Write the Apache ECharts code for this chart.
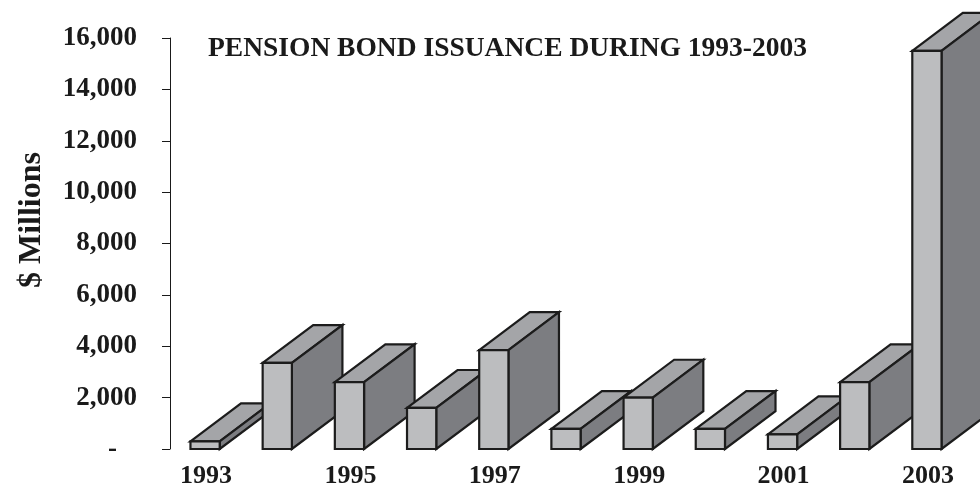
<!DOCTYPE html>
<html>
<head>
<meta charset="utf-8">
<script src="https://cdn.jsdelivr.net/npm/echarts@6/dist/echarts.min.js"></script>
<style>
  html, body { margin: 0; padding: 0; background: #ffffff; }
  #chart { width: 980px; height: 489px; }
</style>
</head>
<body>
<div id="chart"></div>
<script>
// Pension bond issuance by year, $ millions
const years = ['1993', '1994', '1995', '1996', '1997', '1998', '1999', '2000', '2001', '2002', '2003'];
const issuance = [300, 3350, 2600, 1600, 3850, 780, 2000, 780, 570, 2600, 15500];
const yTicks = { min: 0, max: 16000, step: 2000 };

const FONT = '"Liberation Serif", "Times New Roman", serif';
const FACE = { front: '#bcbdbf', top: '#a4a5a8', side: '#7c7d81', edge: '#1c1c1c' };

const chart = echarts.init(document.getElementById('chart'), null, { renderer: 'canvas' });

// Extruded box: front face plus a top and right-side face receding up and to the right
function renderBox(params, api) {
  const idx = api.value(0);
  const val = api.value(1);
  const topPt = api.coord([idx, val]);
  const basePt = api.coord([idx, 0]);
  const band = api.size([1, 0])[0];
  const w = band * 0.405;
  const dx = band * 0.7;
  const dy = -band * 0.525;
  const x0 = topPt[0] - w / 2 - 1;
  const x1 = x0 + w;
  const yt = topPt[1];
  const yb = basePt[1];
  const style = (fill) => ({ fill: fill, stroke: FACE.edge, lineWidth: 2.2, lineJoin: 'miter' });
  return {
    type: 'group',
    children: [
      { type: 'polygon', shape: { points: [[x0, yt], [x0 + dx, yt + dy], [x1 + dx, yt + dy], [x1, yt]] }, style: style(FACE.top) },
      { type: 'polygon', shape: { points: [[x1, yt], [x1 + dx, yt + dy], [x1 + dx, yb + dy], [x1, yb]] }, style: style(FACE.side) },
      { type: 'polygon', shape: { points: [[x0, yt], [x1, yt], [x1, yb], [x0, yb]] }, style: style(FACE.front) }
    ]
  };
}

chart.setOption({
  animation: false,
  backgroundColor: '#ffffff',
  title: {
    text: 'PENSION BOND ISSUANCE DURING 1993-2003',
    left: 203,
    top: 30,
    textStyle: { fontFamily: FONT, fontWeight: 'bold', fontSize: 27.5, color: '#1a1a1a' }
  },
  graphic: [{
    type: 'text',
    left: 16,
    top: 152,
    rotation: Math.PI / 2,
    style: {
      text: '$ Millions',
      fontFamily: FONT, fontWeight: 'bold', fontSize: 32, fill: '#1a1a1a'
    }
  }],
  grid: { left: 170, right: 16, top: 38, bottom: 38, containLabel: false },
  xAxis: {
    type: 'category',
    data: years,
    axisLine: { show: false },
    axisTick: { show: false },
    axisLabel: {
      interval: 1,
      margin: 14,
      fontFamily: FONT, fontWeight: 'bold', fontSize: 26, color: '#1a1a1a'
    }
  },
  yAxis: {
    type: 'value',
    min: yTicks.min,
    max: yTicks.max,
    interval: yTicks.step,
    splitLine: { show: false },
    axisLine: { show: true, lineStyle: { color: '#1a1a1a', width: 1 } },
    axisTick: { show: true, inside: false, length: 8, lineStyle: { color: '#1a1a1a', width: 1 } },
    axisLabel: {
      margin: 33,
      fontFamily: FONT, fontWeight: 'bold', fontSize: 27, color: '#1a1a1a',
      formatter: (v) => v === 0 ? '{dash|-}' : v.toLocaleString('en-US'),
      rich: { dash: { fontFamily: FONT, fontWeight: 'bold', fontSize: 27, color: '#1a1a1a', padding: [0, 20, 0, 0] } }
    }
  },
  series: [{
    type: 'custom',
    clip: false,
    renderItem: renderBox,
    encode: { x: 0, y: 1 },
    data: issuance.map((v, i) => [i, v])
  }]
});
</script>
</body>
</html>
